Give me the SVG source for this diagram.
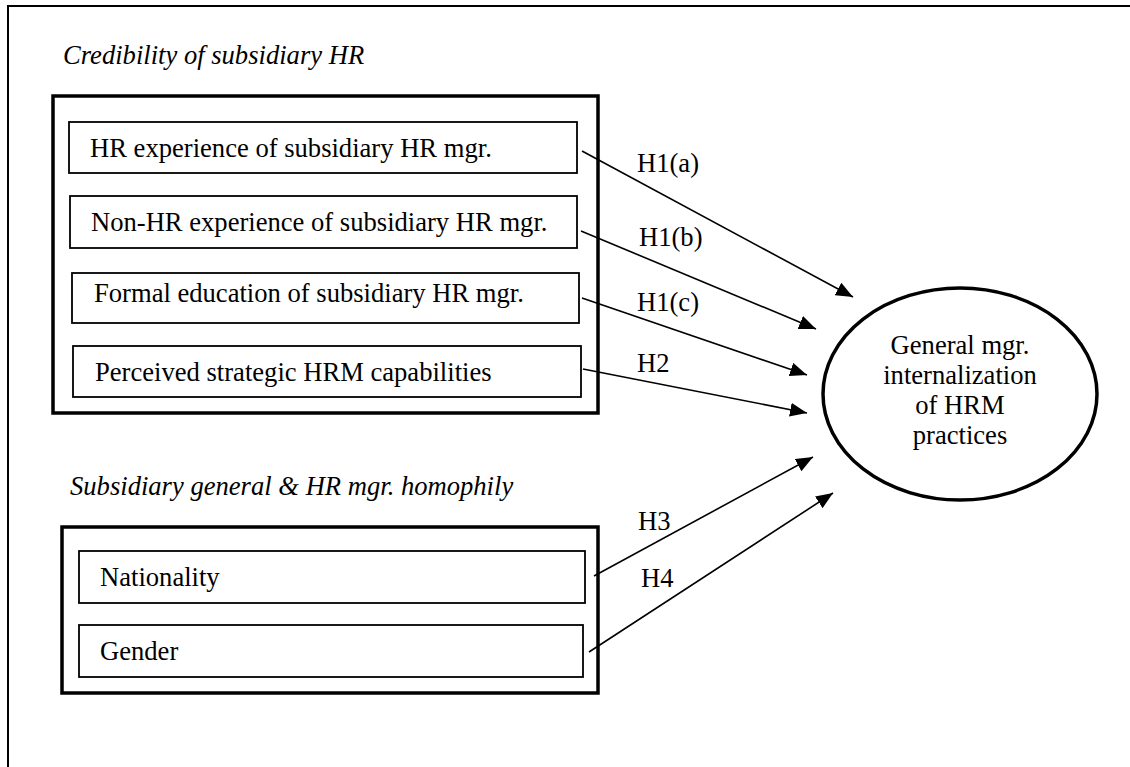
<svg xmlns="http://www.w3.org/2000/svg" width="1130" height="767" viewBox="0 0 1130 767">
<style>
text{font-family:"Liberation Serif","Times New Roman",serif;font-size:26.6px;fill:#000}
.it{font-style:italic}
.thick{fill:none;stroke:#000;stroke-width:3.5}
.box{fill:#fff;stroke:#000;stroke-width:1.8}
.arr{stroke:#000;stroke-width:1.6;fill:none;marker-end:url(#ah)}
</style>
<defs>
<marker id="ah" markerUnits="userSpaceOnUse" markerWidth="18" markerHeight="14" refX="17" refY="7" orient="auto">
<path d="M0,0 L17,7 L0,14 z" fill="#000"/>
</marker>
</defs>
<rect width="1130" height="767" fill="#fff"/>
<rect x="8" y="6" width="1140" height="800" fill="none" stroke="#000" stroke-width="2"/>
<g id="group-credibility">
<text class="it" x="63" y="64">Credibility of subsidiary HR</text>
<rect class="thick" x="53" y="96" width="545" height="317"/>
</g>
<g id="node-hr-exp">
<rect class="box" x="69" y="122" width="508" height="51"/>
<text x="90" y="157">HR experience of subsidiary HR mgr.</text>
</g>
<g id="node-nonhr-exp">
<rect class="box" x="70" y="196" width="507" height="52"/>
<text x="91" y="231">Non-HR experience of subsidiary HR mgr.</text>
</g>
<g id="node-education">
<rect class="box" x="72" y="273" width="507" height="50"/>
<text x="94" y="302">Formal education of subsidiary HR mgr.</text>
</g>
<g id="node-strategic">
<rect class="box" x="73" y="346" width="508" height="51"/>
<text x="95" y="381">Perceived strategic HRM capabilities</text>
</g>
<g id="group-homophily">
<text class="it" x="70" y="495">Subsidiary general &amp; HR mgr. homophily</text>
<rect class="thick" x="62" y="527" width="536" height="166"/>
</g>
<g id="node-nationality">
<rect class="box" x="79" y="551" width="506" height="52"/>
<text x="100" y="586">Nationality</text>
</g>
<g id="node-gender">
<rect class="box" x="79" y="625" width="504" height="52"/>
<text x="100" y="660">Gender</text>
</g>
<g id="node-internalization">
<ellipse cx="960" cy="394" rx="137" ry="106" fill="#fff" stroke="#000" stroke-width="3.5"/>
<text x="960" y="354" text-anchor="middle">General mgr.</text>
<text x="960" y="384" text-anchor="middle">internalization</text>
<text x="960" y="414" text-anchor="middle">of HRM</text>
<text x="960" y="444" text-anchor="middle">practices</text>
</g>
<g id="connectors">
<line class="arr" x1="582" y1="151" x2="853" y2="297"/>
<line class="arr" x1="581" y1="231" x2="816" y2="329"/>
<line class="arr" x1="582" y1="298" x2="807" y2="375"/>
<line class="arr" x1="583" y1="369" x2="807" y2="413"/>
<line class="arr" x1="594" y1="576" x2="813" y2="457"/>
<line class="arr" x1="589" y1="652" x2="833" y2="493"/>
<text x="637" y="172">H1(a)</text>
<text x="639" y="246">H1(b)</text>
<text x="637" y="311">H1(c)</text>
<text x="637" y="372">H2</text>
<text x="638" y="530">H3</text>
<text x="641" y="587">H4</text>
</g>
</svg>
